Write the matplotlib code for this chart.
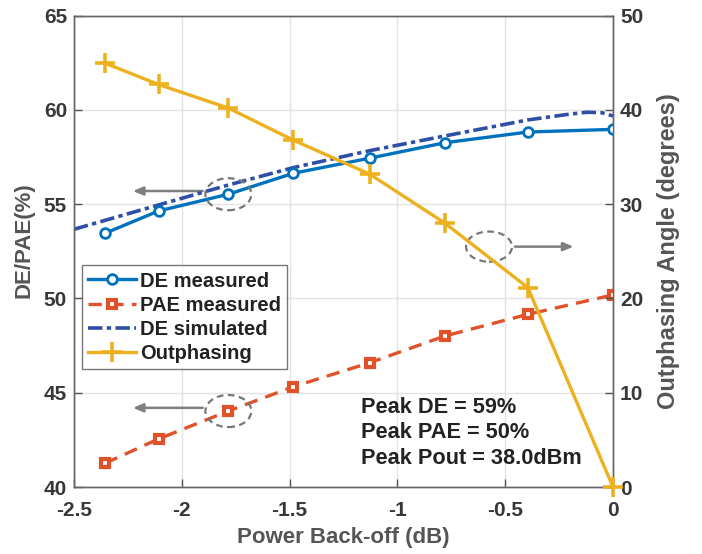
import matplotlib
matplotlib.use("Agg")
import matplotlib.pyplot as plt
from matplotlib.patches import Ellipse

plt.rcParams['font.family'] = ['Liberation Sans', 'DejaVu Sans']
plt.rcParams['font.weight'] = 'bold'
plt.rcParams['axes.labelweight'] = 'bold'

backoff = [-2.356, -2.108, -1.784, -1.483, -1.129, -0.780, -0.395, 0.0]
de_meas = [53.46, 54.64, 55.53, 56.64, 57.44, 58.26, 58.83, 58.97]
pae_meas = [41.26, 42.55, 44.03, 45.32, 46.59, 48.01, 49.16, 50.19]
outphasing = [44.96, 42.7, 40.2, 36.8, 33.2, 28.0, 21.15, 0.0]

sim_x = [-2.5, -2.108, -1.784, -1.483, -1.129, -0.780, -0.395, -0.20, -0.12, -0.05, 0.0]
sim_de = [53.67, 54.96, 56.02, 56.94, 57.84, 58.62, 59.47, 59.78, 59.88, 59.85, 59.68]

x_ticks = [-2.5, -2, -1.5, -1, -0.5, 0]
x_ticklabels = ['-2.5', '-2', '-1.5', '-1', '-0.5', '0']
left_ticks = [40, 45, 50, 55, 60, 65]
right_ticks = [0, 10, 20, 30, 40, 50]

c_de = '#0072BD'
c_pae = '#E0522A'
c_sim = '#2E4FA6'
c_out = '#EDB120'
c_txt = '#383838'

fig = plt.figure(figsize=(7.02, 5.54), dpi=100)
ax = fig.add_axes([0.1054, 0.1209, 0.7678, 0.8508])
ax2 = ax.twinx()

ax.plot(backoff, de_meas, '-o', color=c_de, lw=2.4, ms=7, mfc='white', mec=c_de,
        mew=2, label='DE measured', zorder=5)
ax.plot(backoff, pae_meas, '--s', color=c_pae, lw=2.4, ms=6, mfc='white', mec=c_pae,
        mew=3, dashes=(4, 2.5), label='PAE measured', zorder=5)
ax.plot(sim_x, sim_de, '-.', color=c_sim, lw=2.6, dashes=(4, 1.2, 1.2, 1.2),
        label='DE simulated', zorder=4)
ax2.plot(backoff, outphasing, '-+', color=c_out, lw=2.4, ms=14, mew=2.6,
         label='Outphasing', zorder=6, clip_on=False)

ax.set_xlim(-2.5, 0)
ax.set_ylim(40, 65)
ax2.set_ylim(0, 50)
ax.set_xticks(x_ticks)
ax.set_xticklabels(x_ticklabels)
ax.set_yticks(left_ticks)
ax2.set_yticks(right_ticks)

ax.grid(True, color='#E3E3E3', lw=1)
ax.set_axisbelow(True)
for a in (ax, ax2):
    a.tick_params(direction='in', length=6, width=1, colors='#555555',
                  labelsize=15, labelcolor=c_txt, pad=5)
    for lab in a.get_xticklabels() + a.get_yticklabels():
        lab.set_fontweight('bold')
    for s in a.spines.values():
        s.set_color('#666666')
        s.set_linewidth(1)
ax.tick_params(axis='x', pad=10)
ax.set_xlabel('Power Back-off (dB)', fontsize=16, color='#555555', labelpad=5,
              fontweight='bold')
ax.set_ylabel('DE/PAE(%)', fontsize=16, color='#555555', labelpad=7,
              fontweight='bold')
ax.yaxis.label.set_y(0.523)
ax2.set_ylabel('Outphasing Angle (degrees)', fontsize=17, color='#555555', labelpad=10,
               fontweight='bold')

# annotations: ellipses + arrows
ell_kw = dict(fill=False, ec='#777777', lw=1.6, ls=(0, (3, 2)), zorder=7)
ax.add_patch(Ellipse((-1.784, 55.53), 0.213, 1.7, **ell_kw))
ax.add_patch(Ellipse((-1.784, 44.03), 0.213, 1.7, **ell_kw))
ax.add_patch(Ellipse((-0.575, 52.75), 0.213, 1.6, **ell_kw))
arr_kw = dict(arrowstyle='-|>,head_length=0.6,head_width=0.25', color='#7F7F7F', lw=1.8)
ax.annotate('', xy=(-2.24, 55.7), xytext=(-1.89, 55.7), arrowprops=arr_kw)
ax.annotate('', xy=(-2.24, 44.2), xytext=(-1.89, 44.2), arrowprops=arr_kw)
ax.annotate('', xy=(-0.17, 52.75), xytext=(-0.468, 52.75), arrowprops=arr_kw)

ax.text(-1.17, 44.78, 'Peak DE = 59%\nPeak PAE = 50%\nPeak Pout = 38.0dBm',
        fontsize=15.7, color='#222222', va='top', ha='left', linespacing=1.27,
        fontweight='bold')

h1, l1 = ax.get_legend_handles_labels()
h2, l2 = ax2.get_legend_handles_labels()
leg = ax2.legend(h1 + h2, l1 + l2, loc='upper left', bbox_to_anchor=(0.0145, 0.47),
                 prop={'size': 14.5, 'weight': 'bold'}, frameon=True, fancybox=False,
                 edgecolor='#555555', handlelength=2.4, handletextpad=0.2,
                 borderpad=0.3, labelspacing=0.25, borderaxespad=0)
leg.get_frame().set_linewidth(1)
for t in leg.get_texts():
    t.set_color('#222222')

fig.savefig('out.png', dpi=100)
